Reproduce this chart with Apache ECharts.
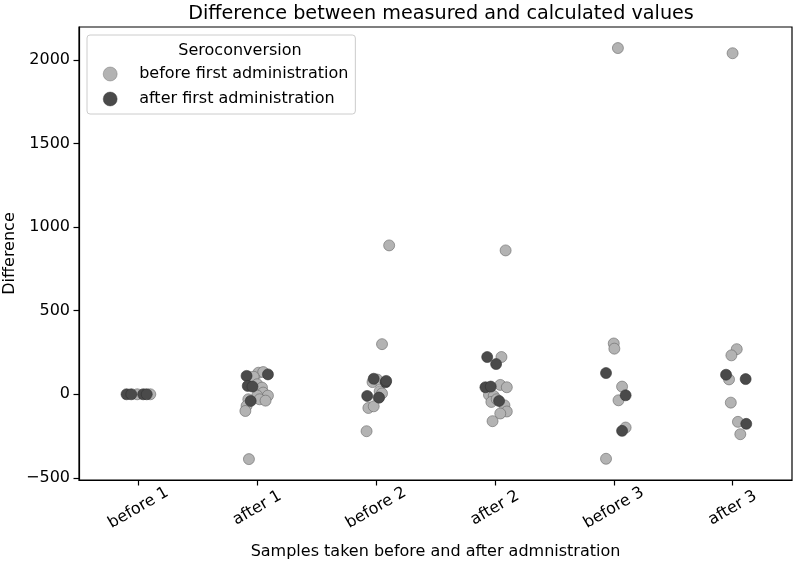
<!DOCTYPE html>
<html>
<head>
<meta charset="utf-8">
<script src="https://cdn.jsdelivr.net/npm/echarts@6/dist/echarts.min.js"></script>
<style>html,body{margin:0;padding:0;background:#fff}#c{width:800px;height:564px}</style>
</head>
<body>
<div id="c"></div>
<script>
// Categories (x axis)
var categories = ['before 1', 'after 1', 'before 2', 'after 2', 'before 3', 'after 3'];
// Y tick labels
var yTicks = [-500, 0, 500, 1000, 1500, 2000];
// Points: [categoryIndex, jitter, difference]
var seroBefore = [
  [0, -0.01, 0], [0, 0.10, 0],
  [1, -0.075, 106], [1, 0.01, 129], [1, 0.05, 133], [1, -0.03, 105], [1, 0.00, 60],
  [1, 0.04, 40], [1, 0.05, 10], [1, 0.09, -8], [1, 0.00, -8], [1, 0.02, -30],
  [1, 0.07, -38], [1, -0.075, -30], [1, -0.09, -70], [1, -0.10, -100], [1, -0.07, -388],
  [2, 0.11, 891], [2, 0.05, 300], [2, -0.03, 73], [2, 0.01, 88], [2, 0.03, 18],
  [2, 0.05, 5], [2, 0.02, -20], [2, -0.065, -82], [2, -0.02, -72], [2, -0.08, -221],
  [3, 0.09, 861], [3, 0.055, 223], [3, 0.045, 56], [3, 0.10, 42], [3, -0.05, -4],
  [3, -0.01, -10], [3, -0.03, -46], [3, 0.015, -30], [3, 0.08, -66], [3, 0.10, -103],
  [3, 0.045, -115], [3, -0.02, -161],
  [4, 0.035, 2072], [4, 0.00, 304], [4, 0.005, 273], [4, 0.07, 46], [4, 0.04, -36],
  [4, 0.10, -199], [4, -0.065, -386],
  [5, 0.00, 2041], [5, 0.035, 270], [5, -0.01, 233], [5, -0.03, 89], [5, -0.015, -50],
  [5, 0.045, -165], [5, 0.065, -239]
];
var seroAfter = [
  [0, -0.10, 0], [0, -0.06, 0], [0, 0.04, 0], [0, 0.07, 0],
  [1, 0.09, 119], [1, -0.09, 110], [1, -0.08, 50], [1, -0.04, 46], [1, -0.055, -40],
  [2, -0.02, 93], [2, 0.08, 72], [2, 0.085, 80], [2, -0.075, -10], [2, 0.025, -20],
  [3, -0.065, 223], [3, 0.01, 181], [3, -0.08, 42], [3, -0.035, 46], [3, 0.035, -40],
  [4, -0.065, 127], [4, 0.10, -6], [4, 0.07, -219],
  [5, -0.055, 117], [5, 0.11, 91], [5, 0.115, -177]
];

function toXY(arr) { return arr.map(function (p) { return [p[0] + p[1], p[2]]; }); }
var FONT = 'DejaVu Sans';
var FS = 16;
var chart = echarts.init(document.getElementById('c'), null, {renderer: 'canvas'});
chart.setOption({
  animation: false,
  backgroundColor: '#fff',
  textStyle: {fontFamily: FONT},
  title: [
    {text: 'Difference between measured and calculated values', left: 436, top: 0, textAlign: 'center',
     textStyle: {fontFamily: FONT, fontSize: 19.2, fontWeight: 'normal', color: '#000'}},
    {text: 'Seroconversion', left: 235, top: 38, textAlign: 'center',
     textStyle: {fontFamily: FONT, fontSize: FS, fontWeight: 'normal', color: '#000'}}
  ],
  legend: {
    orient: 'vertical', left: 87, top: 35,
    padding: [31, 7, 7, 16],
    itemWidth: 14, itemHeight: 14, itemGap: 9,
    backgroundColor: 'rgba(255,255,255,0.8)', borderColor: '#cccccc', borderWidth: 1, borderRadius: 3,
    itemStyle: {borderWidth: 0.4},
    textStyle: {fontFamily: FONT, fontSize: FS, color: '#000', padding: [0, 0, 0, 17]},
    data: [{name: 'before first administration', icon: 'circle'}, {name: 'after first administration', icon: 'circle'}]
  },
  grid: {left: 79, right: 8, top: 27, bottom: 84, outerBoundsMode: 'none', containLabel: false,
    show: true, borderColor: '#000', borderWidth: 1.2, backgroundColor: 'transparent'},
  xAxis: {
    type: 'value', min: -0.5, max: 5.5,
    name: 'Samples taken before and after admnistration', nameLocation: 'middle', nameGap: 64,
    nameMoveOverlap: false,
    nameTextStyle: {fontFamily: FONT, fontSize: FS, color: '#000'},
    axisLine: {show: true, onZero: false, lineStyle: {color: '#000', width: 1.2}},
    axisTick: {show: true, length: 5.5, lineStyle: {color: '#000', width: 1.2}, customValues: [0, 1, 2, 3, 4, 5]},
    axisLabel: {show: true, customValues: [0, 1, 2, 3, 4, 5], rotate: 30, align: 'center', verticalAlign: 'middle', margin: 28,
      fontFamily: FONT, fontSize: FS, color: '#000',
      formatter: function (v) { return categories[Math.round(v)]; }},
    splitLine: {show: false}
  },
  yAxis: {
    type: 'value', min: -513, max: 2198,
    name: 'Difference', nameLocation: 'middle', nameGap: 61,
    nameMoveOverlap: false,
    nameTextStyle: {fontFamily: FONT, fontSize: FS, color: '#000'},
    axisLine: {show: true, onZero: false, lineStyle: {color: '#000', width: 1.2}},
    axisTick: {show: true, length: 5.5, lineStyle: {color: '#000', width: 1.2}, customValues: yTicks},
    axisLabel: {show: true, customValues: yTicks, margin: 9, fontFamily: FONT, fontSize: FS, color: '#000',
      formatter: function (v) { return v < 0 ? '\u2212' + Math.abs(v) : String(v); }},
    splitLine: {show: false}
  },
  series: [
    {name: 'before first administration', type: 'scatter', symbol: 'circle', symbolSize: 11,
     itemStyle: {color: '#b3b3b3', borderColor: '#666', borderWidth: 0.6, opacity: 1},
     data: toXY(seroBefore)},
    {name: 'after first administration', type: 'scatter', symbol: 'circle', symbolSize: 11,
     itemStyle: {color: '#4a4a4a', borderColor: '#333', borderWidth: 0.6, opacity: 1},
     data: toXY(seroAfter)}
  ]
});
</script>
</body>
</html>
